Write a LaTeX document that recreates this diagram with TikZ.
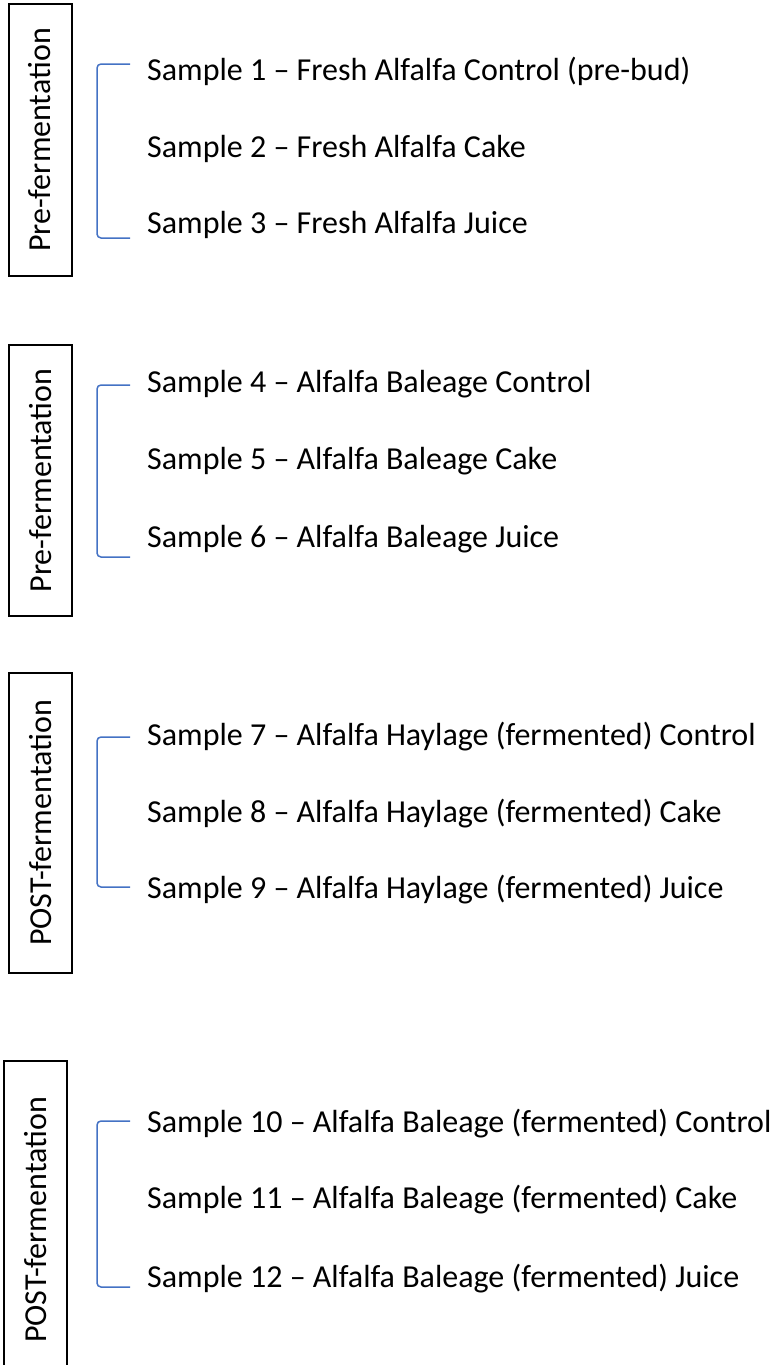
\documentclass[tikz,border=0pt]{standalone}
\usepackage{fontspec}
\setmainfont{Carlito}
\definecolor{brk}{HTML}{4472C4}
\begin{document}
\begin{tikzpicture}[x=1pt,y=-1pt,
  font=\fontsize{32}{38}\selectfont,
  phase/.style={draw, line width=2pt, rotate=90, inner sep=0pt, minimum height=63pt},
  sample/.style={anchor=base west, inner sep=0pt},
  brace/.style={draw=brk, line width=1.5pt, rounded corners=4pt}]
\useasboundingbox (0,0) rectangle (778,1365);
\begin{scope}
\clip (0,0) rectangle (778,1365);
% phase boxes
\node[phase, minimum width=272pt] (p1) at (40,140) {Pre-fermentation};
\node[phase, minimum width=271pt] (p2) at (40.5,480.5) {Pre-fermentation};
\node[phase, minimum width=300pt] (p3) at (40.5,823) {POST-fermentation};
\node[phase, minimum width=318pt] (p4) at (35.5,1220) {POST-fermentation};
% samples
\node[sample] (s1) at (147,80) {Sample 1 – Fresh Alfalfa Control (pre-bud)};
\node[sample] (s2) at (147,157) {Sample 2 – Fresh Alfalfa Cake};
\node[sample] (s3) at (147,233) {Sample 3 – Fresh Alfalfa Juice};
\node[sample] (s4) at (147,392) {Sample 4 – Alfalfa Baleage Control};
\node[sample] (s5) at (147,469) {Sample 5 – Alfalfa Baleage Cake};
\node[sample] (s6) at (147,547) {Sample 6 – Alfalfa Baleage Juice};
\node[sample] (s7) at (147,745) {Sample 7 – Alfalfa Haylage (fermented) Control};
\node[sample] (s8) at (147,822) {Sample 8 – Alfalfa Haylage (fermented) Cake};
\node[sample] (s9) at (147,898) {Sample 9 – Alfalfa Haylage (fermented) Juice};
\node[sample] (s10) at (147,1132) {Sample 10 – Alfalfa Baleage (fermented) Control};
\node[sample] (s11) at (147,1208) {Sample 11 – Alfalfa Baleage (fermented) Cake};
\node[sample] (s12) at (147,1287) {Sample 12 – Alfalfa Baleage (fermented) Juice};
% brackets
\coordinate (b1t) at (130,64);   \coordinate (b1b) at (130,238);
\coordinate (b2t) at (130,385);  \coordinate (b2b) at (130,557);
\coordinate (b3t) at (130,737);  \coordinate (b3b) at (130,887);
\coordinate (b4t) at (130,1121); \coordinate (b4b) at (130,1287);
\draw[brace] (b1t) -- (97,64) -- (97,238) -- (b1b);
\draw[brace] (b2t) -- (97,385) -- (97,557) -- (b2b);
\draw[brace] (b3t) -- (97,737) -- (97,887) -- (b3b);
\draw[brace] (b4t) -- (97,1121) -- (97,1287) -- (b4b);
\end{scope}
\end{tikzpicture}
\end{document}
